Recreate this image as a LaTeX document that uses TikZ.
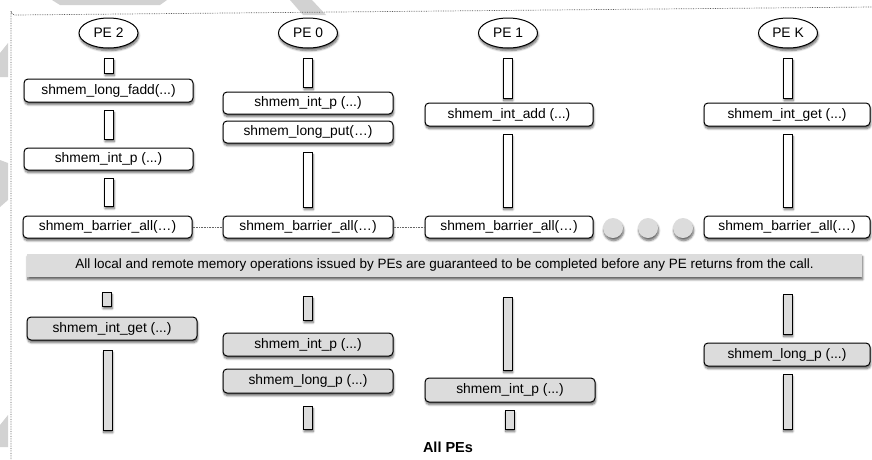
\documentclass[tikz,border=0pt]{standalone}
\usepackage{fontspec}
\setmainfont{Liberation Sans}
\usetikzlibrary{shapes.geometric,shadows.blur}
\definecolor{boxgray}{HTML}{DCDCDC}
\definecolor{wmgray}{HTML}{D2D2D2}
\begin{document}
\begin{tikzpicture}[x=1pt,y=-1pt,
  font=\fontsize{13.8}{16}\selectfont,
  shad/.style={blur shadow={shadow xshift=0.7pt,shadow yshift=-2.6pt,shadow blur steps=6,shadow opacity=60}},
  wbox/.style={draw, line width=1pt, rounded corners=4pt, fill=white, inner sep=0pt, minimum height=23pt, shad},
  gbox/.style={wbox, fill=boxgray},
  wbar/.style={draw, line width=1pt, fill=white, inner sep=0pt, minimum width=9pt, shad},
  gbar/.style={wbar, fill=boxgray},
  pe/.style={ellipse, draw, line width=1pt, fill=white, minimum width=59pt, minimum height=30pt, inner sep=0pt, shad},
  dotc/.style={circle, fill=boxgray, minimum size=20pt, inner sep=0pt, shad},
  banner/.style={fill=boxgray, inner sep=0pt, minimum width=835pt, minimum height=23pt, shad, font=\fontsize{13.5}{15}\selectfont},
  sync/.style={densely dotted, line width=0.6pt, gray!80!black},
  framel/.style={densely dotted, line width=0.7pt, gray!70!black},
  wm/.style={fill=wmgray, draw=none}]
\useasboundingbox (0,0) rectangle (872,459);
% background watermark shapes
\fill[wm] (52,0) -- (167,0) -- (160,5) -- (60,5) -- cycle;
\fill[wm] (290,0) -- (312,0) -- (326,15) -- (303,15) -- cycle;
\fill[wm] (0,53) -- (8,43) -- (8,77) -- (0,77) -- cycle;
\fill[wm] (0,160) -- (8,163) -- (8,200) -- (0,207) -- cycle;
\fill[wm] (0,425) -- (8,415) -- (8,447) -- (0,447) -- cycle;
% frame
\draw[framel] (11,459) -- (11,11) arc[start angle=180,end angle=90,radius=4] -- (872,7);
% PE 2
\node[pe] (e2) at (108.5,33) {PE 2};
\node[wbar, minimum height=15pt] (a21) at (109,65.5) {};
\node[wbox, minimum width=169pt] (f21) at (108.5,90.5) {shmem\_long\_fadd(...)};
\node[wbar, minimum height=29pt] (a22) at (109,124.5) {};
\node[wbox, minimum width=169pt, minimum height=22pt] (f22) at (108.5,159) {shmem\_int\_p (...)};
\node[wbar, minimum height=28pt] (a23) at (109,192) {};
\node[wbox, minimum width=169pt, minimum height=22pt] (b2) at (107.5,227) {shmem\_barrier\_all(…)};
% PE 0
\node[pe] (e0) at (308,33) {PE 0};
\node[wbar, minimum height=29pt] (a01) at (308,72.5) {};
\node[wbox, minimum width=170pt, minimum height=22pt] (f01) at (308,103) {shmem\_int\_p (...)};
\node[wbox, minimum width=170pt, minimum height=22pt] (f02) at (308,132) {shmem\_long\_put(…)};
\node[wbar, minimum height=55pt] (a02) at (308,179.5) {};
\node[wbox, minimum width=170pt, minimum height=22pt] (b0) at (308,227) {shmem\_barrier\_all(…)};
% PE 1
\node[pe] (e1) at (508,33) {PE 1};
\node[wbar, minimum height=40pt] (a11) at (507.5,78) {};
\node[wbox, minimum width=168pt] (f11) at (509,114.5) {shmem\_int\_add (...)};
\node[wbar, minimum height=73pt] (a12) at (507.5,170.5) {};
\node[wbox, minimum width=168pt, minimum height=22pt] (b1) at (509,227) {shmem\_barrier\_all(…)};
% PE K
\node[pe] (ek) at (788,33) {PE K};
\node[wbar, minimum height=40pt] (ak1) at (788,78) {};
\node[wbox, minimum width=166pt] (fk1) at (787,114.5) {shmem\_int\_get (...)};
\node[wbar, minimum height=73pt] (ak2) at (788,170.5) {};
\node[wbox, minimum width=166pt, minimum height=22pt] (bk) at (787,227) {shmem\_barrier\_all(…)};
% ellipsis dots
\node[dotc] (d1) at (613,228) {};
\node[dotc] (d2) at (648,228) {};
\node[dotc] (d3) at (683,228) {};
% sync connectors
\draw[sync] (b2.east) -- (b0.west);
\draw[sync] (b0.east) -- (b1.west);
% banner
\node[banner] (ban) at (444.5,265.5) {All local and remote memory operations issued by PEs are guaranteed to be completed before any PE returns from the call.};
% lower PE 2
\node[gbar, minimum height=14pt] (g21) at (107,299) {};
\node[gbox, minimum width=170pt] (h21) at (112,328.5) {shmem\_int\_get (...)};
\node[gbar, minimum height=80pt] (g22) at (107.5,390) {};
% lower PE 0
\node[gbar, minimum height=24pt] (g01) at (308,308) {};
\node[gbox, minimum width=170pt] (h01) at (308,344.5) {shmem\_int\_p (...)};
\node[gbox, minimum width=170pt, minimum height=24pt] (h02) at (308,381) {shmem\_long\_p (...)};
\node[gbar, minimum height=23pt] (g02) at (308,417.5) {};
% lower PE 1
\node[gbar, minimum height=73pt] (g11) at (507.5,333.5) {};
\node[gbox, minimum width=170pt, minimum height=24pt] (h11) at (510,390) {shmem\_int\_p (...)};
\node[gbar, minimum height=19pt] (g12) at (509.5,419.5) {};
% lower PE K
\node[gbar, minimum height=40pt] (gk1) at (787.5,314) {};
\node[gbox, minimum width=166pt] (hk1) at (787,354.5) {shmem\_long\_p (...)};
\node[gbar, minimum height=55pt] (gk2) at (787.5,401.5) {};
% caption
\node[font=\fontsize{14.5}{16}\selectfont\bfseries] (all) at (448,447) {All PEs};
\end{tikzpicture}
\end{document}
